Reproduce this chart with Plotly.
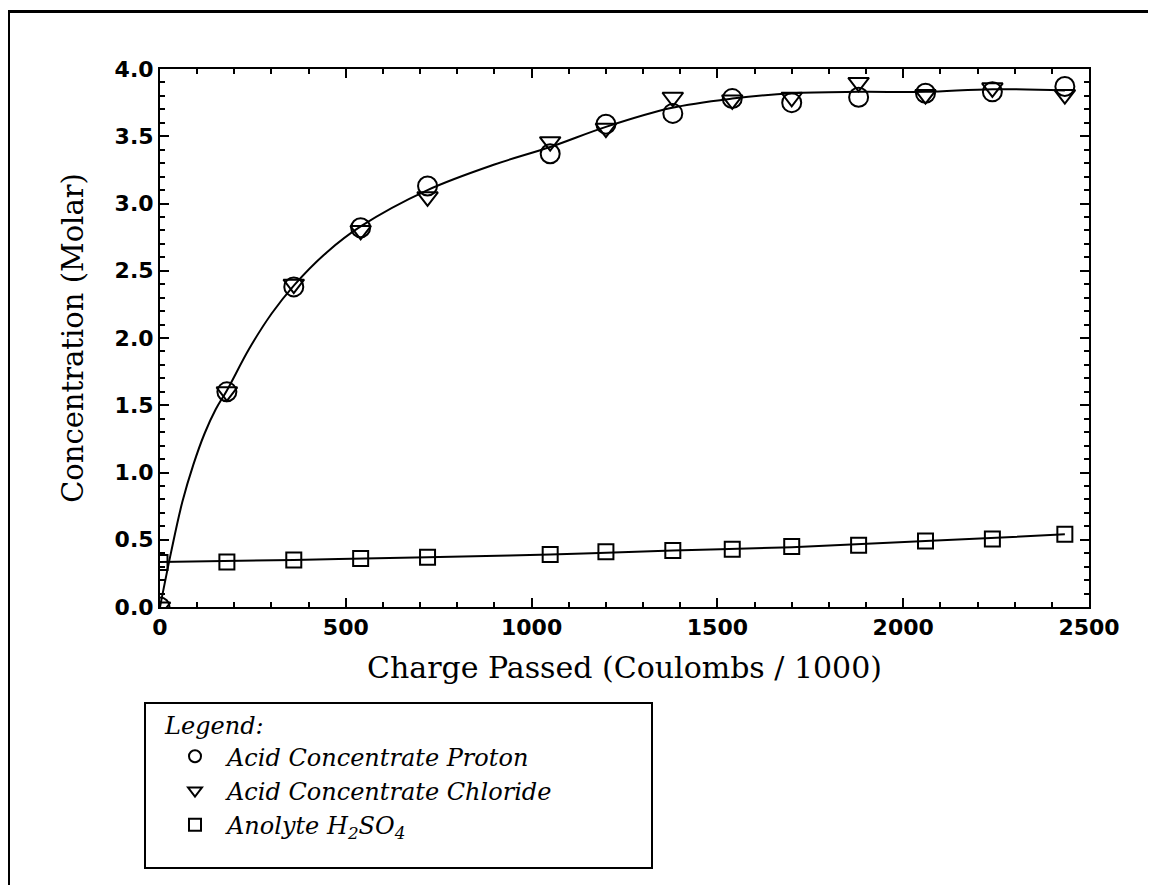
import plotly.graph_objects as go

# ---- data ----
charge = [0, 180, 360, 540, 720, 1050, 1200, 1380, 1540, 1700, 1880, 2060, 2240, 2435]
proton = [0.0, 1.60, 2.38, 2.82, 3.13, 3.37, 3.59, 3.67, 3.78, 3.75, 3.79, 3.82, 3.83, 3.87]
chloride = [0.0, 1.60, 2.40, 2.80, 3.05, 3.46, 3.56, 3.79, 3.77, 3.79, 3.90, 3.81, 3.86, 3.81]
anolyte = [0.33, 0.335, 0.35, 0.36, 0.37, 0.39, 0.41, 0.42, 0.43, 0.45, 0.46, 0.49, 0.505, 0.54]

# fitted curves drawn in the reference
acid_fit_x = [0, 30, 60, 90, 120, 150, 180, 240, 300, 360, 450, 540, 720, 900, 1050, 1200, 1375, 1540, 1700, 1880, 2060, 2240, 2435]
acid_fit_y = [0.0, 0.41, 0.78, 1.06, 1.29, 1.47, 1.61, 1.92, 2.18, 2.39, 2.64, 2.83, 3.10, 3.29, 3.42, 3.57, 3.71, 3.78, 3.82, 3.83, 3.83, 3.85, 3.84]
anolyte_fit_x = [0, 360, 720, 1050, 1380, 1700, 2060, 2435]
anolyte_fit_y = [0.335, 0.35, 0.37, 0.39, 0.42, 0.445, 0.49, 0.54]

x_ticks = [0, 500, 1000, 1500, 2000, 2500]
y_ticks = [0.0, 0.5, 1.0, 1.5, 2.0, 2.5, 3.0, 3.5, 4.0]

legend_names = ["Acid Concentrate Proton", "Acid Concentrate Chloride", "Anolyte H<sub>2</sub>SO<sub>4</sub>"]

fig = go.Figure()

fig.add_trace(go.Scatter(x=acid_fit_x, y=acid_fit_y, mode="lines", line=dict(color="black", width=2, shape="spline", smoothing=1.0),
                         showlegend=False, hoverinfo="skip"))
fig.add_trace(go.Scatter(x=anolyte_fit_x, y=anolyte_fit_y, mode="lines", line=dict(color="black", width=2, shape="spline", smoothing=1.0),
                         showlegend=False, hoverinfo="skip"))

fig.add_trace(go.Scatter(x=charge, y=proton, mode="markers", name=legend_names[0],
                         marker=dict(symbol="circle-open", size=19, color="black", line=dict(width=2, color="black"))))
fig.add_trace(go.Scatter(x=charge, y=chloride, mode="markers", name=legend_names[1],
                         marker=dict(symbol="triangle-down-open", size=18, color="black", line=dict(width=2, color="black"))))
fig.add_trace(go.Scatter(x=charge, y=anolyte, mode="markers", name=legend_names[2],
                         marker=dict(symbol="square-open", size=15, color="black", line=dict(width=2, color="black"))))

# page has an 8px body margin: work in figure coordinates (page - 8)
OFF = 8
W, H = 1156, 885
L, R, T, B = 160 - OFF, 1089 - OFF, 69 - OFF, 607 - OFF
pw, ph = R - L, B - T

def px(xpage):
    return (xpage - OFF - L) / pw

def py(ypage):
    return (B - (ypage - OFF)) / ph

fig.update_layout(
    width=W, height=H,
    margin=dict(l=L, r=W - R, t=T, b=H - B),
    paper_bgcolor="white", plot_bgcolor="white",
    font=dict(family="DejaVu Serif", color="black"),
    xaxis=dict(range=[0, 2500], tickvals=x_ticks, ticktext=[str(v) for v in x_ticks],
               ticks="inside", ticklen=9, tickwidth=2, tickcolor="black",
               minor=dict(dtick=100, ticks="inside", ticklen=5, tickwidth=1.5, tickcolor="black"),
               showline=True, linewidth=2, linecolor="black", mirror="ticks",
               showgrid=False, zeroline=False,
               tickfont=dict(family="DejaVu Sans", size=22, color="black", weight="bold"),
               title=dict(text="Charge Passed (Coulombs / 1000)", standoff=18,
                          font=dict(family="DejaVu Serif", size=30, color="black"))),
    yaxis=dict(range=[0, 4], tickvals=y_ticks, ticktext=[f"{v:.1f}" for v in y_ticks],
               ticks="inside", ticklen=9, tickwidth=2, tickcolor="black",
               minor=dict(dtick=0.1, ticks="inside", ticklen=5, tickwidth=1.5, tickcolor="black"),
               showline=True, linewidth=2, linecolor="black", mirror="ticks",
               showgrid=False, zeroline=False,
               tickfont=dict(family="DejaVu Sans", size=22, color="black", weight="bold"),
               title=dict(text="Concentration (Molar)", standoff=22,
                          font=dict(family="DejaVu Serif", size=29, color="black"))),
    legend=dict(x=px(163), y=py(703), xanchor="left", yanchor="top",
                bgcolor="rgba(0,0,0,0)", borderwidth=0,
                font=dict(family="DejaVu Serif", size=24, color="black", style="italic"),
                title=dict(text="Legend:", font=dict(family="DejaVu Serif", size=24, color="black", style="italic")),
                tracegroupgap=0, itemsizing="constant", itemwidth=54),
    shapes=[
        dict(type="line", xref="paper", yref="paper", x0=px(8.5), x1=px(8.5), y0=py(10), y1=py(890),
             line=dict(color="black", width=3)),
        dict(type="line", xref="paper", yref="paper", x0=px(7), x1=px(1160), y0=py(11.5), y1=py(11.5),
             line=dict(color="black", width=3)),
        dict(type="rect", xref="paper", yref="paper", x0=px(145), x1=px(652), y0=py(868), y1=py(703),
             line=dict(color="black", width=2), fillcolor="white", layer="below"),
    ],
)

fig.write_html("out.html")
